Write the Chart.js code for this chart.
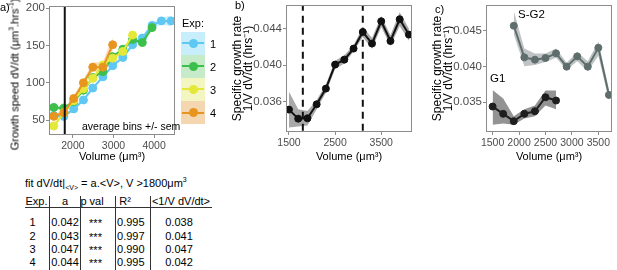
<!DOCTYPE html>
<html>
<head>
<meta charset="utf-8">
<script src="https://cdn.jsdelivr.net/npm/chart.js@4.4.1/dist/chart.umd.min.js"></script>
<style>
  body { margin: 0; background: #fff; width: 617px; height: 270px; overflow: hidden; position: relative;
         font-family: 'Liberation Sans', Arial, sans-serif; color: #000; }
  canvas { position: absolute; top: 0; }
  .txt { position: absolute; white-space: nowrap; line-height: 1; }
  .hl { position: absolute; background: #333; }
  sub, sup { font-size: 7px; line-height: 0; }
  .ytitle { position: absolute; width: 170px; text-align: center; font-size: 11px; line-height: 13px;
            transform: rotate(-90deg); white-space: nowrap; }
</style>
</head>
<body>
<canvas id="chartA" width="180" height="165" style="left:0"></canvas>
<canvas id="chartB" width="189" height="165" style="left:228px"></canvas>
<canvas id="chartC" width="189" height="165" style="left:428px"></canvas>

<div class="txt" style="left:0;top:2px;font-size:11px">a)</div>
<div class="txt" style="left:235px;top:0;font-size:11px">b)</div>
<div class="txt" style="left:435px;top:4px;font-size:11px">c)</div>
<div class="txt" style="left:182px;top:18px;font-size:11px">Exp:</div>
<div class="txt" style="left:82px;top:121px;font-size:10.5px">average bins +/- sem</div>
<div class="txt" style="left:518px;top:9px;font-size:11.5px">S-G2</div>
<div class="txt" style="left:490px;top:73px;font-size:11.5px">G1</div>
<div class="ytitle" style="left:-70.5px;top:68px">Growth speed dV/dt (μm<sup>3</sup>.hrs<sup>-1</sup>)</div>

<div id="legend"></div>
<div id="table"></div>

<script>
// panel a: binned growth speed dV/dt (um3/h), one series per experiment
const volBinsA = [1530, 1780, 2020, 2260, 2490, 2740, 2980, 3230, 3470, 3710, 3950, 4180, 4420];
const speedExp1 = [56, 55, 65, 77, 93, 108, 123, 134, 151, 160, 177, 183, 183];
const semExp1 = [3, 2, 2, 2, 2, 2, 2, 2, 2, 3, 3, 5, 7];
const speedExp2 = [67, 66, 75, 90, 107, 115, 135, 145, 158, 154, 174];
const semExp2 = [3, 2, 2, 2, 2, 2, 2, 3, 3, 3, 4];
const speedExp3 = [42, 60, 76, 92, 106, 124, 133, 142, 164];
const semExp3 = [3, 3, 2, 2, 3, 4, 3, 3, 4];
const speedExp4 = [55, 60, 79, 100, 121, 121, 151];
const semExp4 = [3, 3, 3, 4, 6, 7, 10];
const cutoffVolume = 1800;
const ticksAx = [2000, 3000, 4000];
const ticksAy = [50, 100, 150, 200];

// panel b: specific growth rate, all cells
const volBinsB = [1500, 1700, 1900, 2100, 2300, 2500, 2700, 2900, 3100, 3300, 3500, 3700, 3900, 4100];
const rateB = [0.03515, 0.03416, 0.0342, 0.03573, 0.03745, 0.04008, 0.04062, 0.04183, 0.04365, 0.04238, 0.04482, 0.04266, 0.04504, 0.04336];
const rateBlow = [0.0332, 0.0333, 0.0334, 0.0352, 0.0370, 0.0396, 0.0402, 0.0415, 0.0431, 0.0418, 0.0442, 0.0421, 0.0443, 0.0427];
const rateBhigh = [0.0371, 0.0352, 0.0350, 0.0362, 0.0379, 0.0405, 0.0411, 0.0422, 0.0442, 0.0430, 0.0454, 0.0433, 0.0458, 0.0440];
const phaseLines = [1800, 3100];
const ticksBx = [1500, 2500, 3500];
const ticksBy = [0.036, 0.040, 0.044];

// panel c: specific growth rate split by phase
const volG1 = [1500, 1700, 1900, 2100, 2300, 2500, 2700];
const rateG1 = [0.03437, 0.03335, 0.03232, 0.03335, 0.03371, 0.03567, 0.03521];
const rateG1low = [0.0318, 0.0320, 0.0318, 0.0327, 0.0330, 0.0345, 0.0340];
const rateG1high = [0.0367, 0.0355, 0.0330, 0.0340, 0.0345, 0.0366, 0.0366];
const volSG2 = [1900, 2100, 2300, 2500, 2700, 2900, 3100, 3300, 3500, 3700];
const rateSG2 = [0.04569, 0.04126, 0.04094, 0.04117, 0.04182, 0.03996, 0.0414, 0.03996, 0.04261, 0.0360];
const rateSG2low = [0.0445, 0.0400, 0.0402, 0.0406, 0.0412, 0.0395, 0.0407, 0.0393, 0.0415, 0.0352];
const rateSG2high = [0.0478, 0.0425, 0.0418, 0.0418, 0.0425, 0.0405, 0.0420, 0.0407, 0.0435, 0.0368];
const ticksCx = [1500, 2000, 2500, 3000, 3500];
const ticksCy = [0.035, 0.040, 0.045];

// fit table
const expIds = ['1', '2', '3', '4'];
const slopeA = ['0.042', '0.043', '0.047', '0.044'];
const pVals = ['***', '***', '***', '***'];
const rSquared = ['0.995', '0.997', '0.990', '0.995'];
const meanRate = ['0.038', '0.041', '0.047', '0.042'];

const expColors = ['#5ec8f2', '#3dbf4c', '#e4e838', '#e8951f'];
const expBands = ['rgba(94,200,242,0.3)', 'rgba(61,191,76,0.3)', 'rgba(228,232,56,0.35)', 'rgba(232,149,31,0.35)'];
const expKeys = ['#c8eefb', '#c6ebc9', '#f4f6c2', '#f4d6b0'];

Chart.defaults.font.family = "'Liberation Sans', Arial, sans-serif";
Chart.defaults.animation = false;

const pts = (xs, ys) => ys.map((y, i) => ({ x: xs[i], y: y }));

const framePlugin = {
    id: 'frame',
    afterDraw(chart) {
        const a = chart.chartArea, ctx = chart.ctx;
        ctx.save();
        ctx.strokeStyle = '#8c8c8c';
        ctx.lineWidth = 1;
        ctx.strokeRect(Math.round(a.left) + 0.5, Math.round(a.top) + 0.5,
            Math.round(a.right - a.left) - 1, Math.round(a.bottom - a.top) - 1);
        ctx.restore();
    }
};

function band(xs, low, high, color) {
    return [
        { data: pts(xs, high), borderWidth: 0, pointRadius: 0, fill: '+1', backgroundColor: color, order: 20 },
        { data: pts(xs, low), borderWidth: 0, pointRadius: 0, fill: false, order: 20 }
    ];
}

function series(xs, ys, color, radius, order) {
    return {
        data: pts(xs, ys), borderColor: color, borderWidth: 2, tension: 0,
        pointRadius: radius, pointBackgroundColor: color, pointBorderColor: color, pointBorderWidth: 1,
        fill: false, order: order
    };
}

function noPad(s) { s.paddingTop = 0; s.paddingBottom = 0; s.paddingLeft = 0; s.paddingRight = 0; }

function xScale(min, max, ticks, height) {
    return {
        type: 'linear', min: min, max: max,
        afterBuildTicks: s => { s.ticks = ticks.map(v => ({ value: v })); },
        afterFit: s => { s.height = height; noPad(s); },
        grid: { drawOnChartArea: false, tickLength: 3, color: '#8c8c8c' },
        border: { display: false },
        ticks: { padding: 2, color: '#4d4d4d', font: { size: 10.5 }, maxRotation: 0, callback: v => String(v) },
        title: { display: true, text: 'Volume (μm³)', color: '#000', font: { size: 11 }, padding: { top: 0, bottom: 1 } }
    };
}

function yScale(min, max, ticks, width, title, titleFont, titlePad, digits) {
    return {
        type: 'linear', min: min, max: max,
        afterBuildTicks: s => { s.ticks = ticks.map(v => ({ value: v })); },
        afterFit: s => { s.width = width; noPad(s); },
        grid: { drawOnChartArea: false, tickLength: 3, color: '#8c8c8c' },
        border: { display: false },
        ticks: { padding: 1, color: '#4d4d4d', font: { size: 11.5 }, callback: v => digits ? v.toFixed(digits) : String(v) },
        title: { display: !!title, text: title || '', color: '#000', font: titleFont, padding: { top: titlePad, bottom: 0 } }
    };
}

const baseOptions = (pad) => ({
    responsive: false,
    layout: { padding: pad },
    plugins: { legend: { display: false }, tooltip: { enabled: false } }
});

// panel a
const dsA = [
    { data: [{ x: cutoffVolume, y: 0 }, { x: cutoffVolume, y: 300 }], borderColor: '#111', borderWidth: 2, pointRadius: 0, order: 0 },
    series(volBinsA, speedExp4, expColors[3], 4, 1),
    series(volBinsA, speedExp3, expColors[2], 4, 2),
    series(volBinsA, speedExp2, expColors[1], 4, 3),
    series(volBinsA, speedExp1, expColors[0], 4, 4)
];
const aSets = [[speedExp1, semExp1], [speedExp2, semExp2], [speedExp3, semExp3], [speedExp4, semExp4]];
aSets.forEach((s, i) => {
    const xs = volBinsA.slice(0, s[0].length);
    dsA.push(...band(xs, s[0].map((v, j) => v - s[1][j]), s[0].map((v, j) => v + s[1][j]), expBands[i]));
});

new Chart(document.getElementById('chartA'), {
    type: 'line',
    data: { datasets: dsA },
    options: Object.assign(baseOptions({ top: 6, right: 4, left: 0, bottom: 0 }), {
        scales: {
            x: xScale(1412, 4515, ticksAx, 30),
            y: yScale(30, 203, ticksAy, 49, null, { size: 11 }, 8, 0)
        }
    }),
    plugins: [framePlugin]
});

// panel b
const dsB = [series(volBinsB, rateB, '#111', 3.5, 1)];
phaseLines.forEach(v => {
    dsB.push({ data: [{ x: v, y: 0 }, { x: v, y: 1 }], borderColor: '#111', borderWidth: 2, borderDash: [7, 5], pointRadius: 0, order: 2 });
});
dsB.push(...band(volBinsB, rateBlow, rateBhigh, 'rgba(140,140,140,0.75)'));

new Chart(document.getElementById('chartB'), {
    type: 'line',
    data: { datasets: dsB },
    options: Object.assign(baseOptions({ top: 5, right: 4, left: 0, bottom: 0 }), {
        scales: {
            x: xScale(1435, 4167, ticksBx, 33),
            y: yScale(0.0327, 0.0466, ticksBy, 58, ['Specific growth rate', '1/V dV/dt (hrs⁻¹)'], { size: 12, lineHeight: 0.95 }, 4, 3)
        }
    }),
    plugins: [framePlugin]
});

// panel c
const dsC = [
    series(volG1, rateG1, '#1e1e1e', 3.5, 1),
    series(volSG2, rateSG2, '#5f6e6c', 3.5, 2)
];
dsC.push(...band(volG1, rateG1low, rateG1high, 'rgba(120,120,120,0.8)'));
dsC.push(...band(volSG2, rateSG2low, rateSG2high, 'rgba(170,175,175,0.75)'));

new Chart(document.getElementById('chartC'), {
    type: 'line',
    data: { datasets: dsC },
    options: Object.assign(baseOptions({ top: 4, right: 4, left: 0, bottom: 0 }), {
        scales: {
            x: xScale(1375, 3758, ticksCx, 33),
            y: yScale(0.0308, 0.0486, ticksCy, 58, ['Specific growth rate', '1/V dV/dt (hrs⁻¹)'], { size: 12, lineHeight: 0.95 }, 4, 3)
        }
    }),
    plugins: [framePlugin]
});

// legend for panel a
const legend = document.getElementById('legend');
expIds.forEach((id, i) => {
    const top = 31.7 + i * 23.1;
    legend.insertAdjacentHTML('beforeend',
        `<div style="position:absolute;left:181px;top:${top}px;width:24px;height:23.1px;background:${expKeys[i]}"></div>` +
        `<div style="position:absolute;left:182px;top:${top + 10.5}px;width:22px;height:2px;background:${expColors[i]}"></div>` +
        `<div style="position:absolute;left:189px;top:${top + 7}px;width:9px;height:9px;border-radius:50%;background:${expColors[i]}"></div>` +
        `<div class="txt" style="left:210px;top:${top + 7}px;font-size:11px">${id}</div>`);
});

// fit table
const table = document.getElementById('table');
let html = '<div class="txt" style="left:25px;top:178px;font-size:11px">fit dV/dt|<sub>&lt;V&gt;</sub> = a.&lt;V&gt;, V &gt;1800μm<sup>3</sup></div>';
const cell = (text, cx, top) => `<div class="txt" style="left:${cx - 40}px;width:80px;text-align:center;top:${top}px;font-size:11px">${text}</div>`;
html += cell('Exp.', 36.5, 196.4) + cell('a', 65, 196.4) + cell('p val', 92, 196.4) + cell('R²', 125, 196.4) + cell('&lt;1/V dV/dt&gt;', 181, 196.4);
expIds.forEach((id, i) => {
    const top = 217.4 + i * 13.3;
    html += cell(id, 32.5, top) + cell(slopeA[i], 65, top) + cell(pVals[i], 95.5, top + 1) +
            cell(rSquared[i], 130.8, top) + cell(meanRate[i], 179, top);
});
html += '<div class="hl" style="left:25px;top:207px;width:187px;height:1px"></div>';
[49, 80, 115, 150].forEach(x => {
    html += `<div class="hl" style="left:${x}px;top:196px;width:1px;height:74px"></div>`;
});
table.innerHTML = html;
</script>
</body>
</html>
